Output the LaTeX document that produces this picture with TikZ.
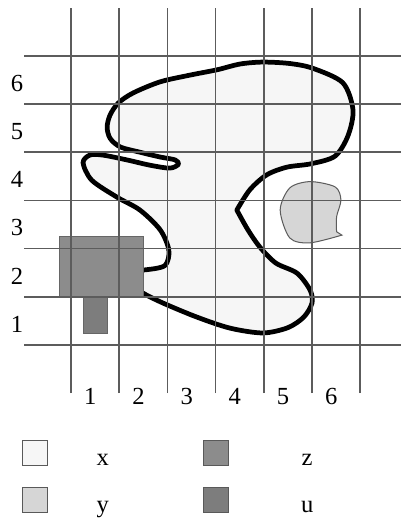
\documentclass[tikz,border=0pt]{standalone}
\usepackage{fontspec}
\setmainfont{Liberation Serif}
\usetikzlibrary{positioning}
\definecolor{fillX}{gray}{0.965}
\definecolor{fillY}{gray}{0.84}
\definecolor{fillZ}{gray}{0.55}
\definecolor{fillU}{gray}{0.49}
\definecolor{gridGray}{gray}{0.36}
\tikzset{
    font=\fontsize{14.5}{17}\selectfont,
    % Regions
    regionX/.style={fill=fillX, draw=black, line width=2.8pt, line join=round},
    regionY/.style={fill=fillY, draw=gridGray, line width=0.6pt},
    blockZ/.style={fill=fillZ, draw=black!60, line width=0.5pt},
    blockU/.style={fill=fillU, draw=black!60, line width=0.5pt},
    % Grid & Legend
    gridline/.style={draw=gridGray, line width=0.9pt},
    keybox/.style={rectangle, draw=black!65, line width=0.8pt,
                   minimum size=0.52cm, inner sep=0pt},
    lbl/.style={inner sep=1pt}
}

\begin{document}
\begin{tikzpicture}
\useasboundingbox (-1.473,-3.672) rectangle (6.846,7.158);

% region x
\path[regionX] plot[smooth] coordinates {(1.3,1.25) (1.49,1.08) (1.91,0.87)
    (2.61,0.58) (3.30,0.35) (3.98,0.25) (4.50,0.36) (4.83,0.58) (5.0,0.87)
    (4.96,1.14) (4.69,1.49) (4.25,1.70) (3.92,2.03) (3.67,2.39) (3.44,2.80)}
  -- plot[smooth] coordinates {(3.44,2.80) (3.71,3.22) (4.06,3.53) (4.48,3.69)
    (4.98,3.76) (5.48,3.92) (5.75,4.35) (5.85,4.88) (5.64,5.44)
    (5.02,5.74) (4.54,5.84) (3.98,5.87) (3.51,5.83) (3.03,5.71) (2.47,5.60)
    (1.85,5.46) (1.29,5.23) (0.98,5.02) (0.81,4.77) (0.75,4.52) (0.81,4.29)
    (1.02,4.11) (1.43,4.00) (1.85,3.90) (2.16,3.84) (2.23,3.75) (2.05,3.67)
    (1.64,3.73) (1.16,3.84) (0.66,3.94) (0.39,3.94) (0.25,3.78) (0.43,3.42)
    (0.95,3.07) (1.43,2.80) (1.85,2.39) (2.03,1.97) (1.95,1.65) (1.55,1.56)
    (1.3,1.56)} -- cycle;

% region y
\path[regionY] plot[smooth] coordinates {(5.51,2.35) (5.51,2.66) (5.60,3.01)
    (5.48,3.28) (4.96,3.39) (4.54,3.26) (4.34,2.80) (4.54,2.22) (4.96,2.12)
    (5.62,2.28)} -- cycle;

% blocks z and u
\path[blockZ] (-0.24,1.0) rectangle (1.51,2.25);
\path[blockU] (0.26,0.24) rectangle (0.76,1.0);

% grid
\foreach \i in {0,...,6}
    \draw[gridline] (\i,-1) -- (\i,7);
\foreach \j in {0,...,6}
    \draw[gridline] (-0.975,\j) -- (6.846,\j);

% axis numbers
\foreach \i in {1,...,6} {
    \node[lbl] (colnum\i) at (\i-0.6,-1.07) {\i};
    \node[lbl] (rownum\i) at (-1.12,\i-0.57) {\i};
}

% legend
\node[keybox, fill=fillX] (keyX) at (-0.747,-2.24) {};
\node[keybox, fill=fillY] (keyY) at (-0.747,-3.216) {};
\node[keybox, fill=fillZ] (keyZ) at (3.01,-2.24) {};
\node[keybox, fill=fillU] (keyU) at (3.01,-3.216) {};
\node[lbl, anchor=base] (labX) at (0.66,-2.49) {x};
\node[lbl, anchor=base] (labY) at (0.66,-3.466) {y};
\node[lbl, anchor=base] (labZ) at (4.90,-2.49) {z};
\node[lbl, anchor=base] (labU) at (4.90,-3.466) {u};

\end{tikzpicture}
\end{document}
